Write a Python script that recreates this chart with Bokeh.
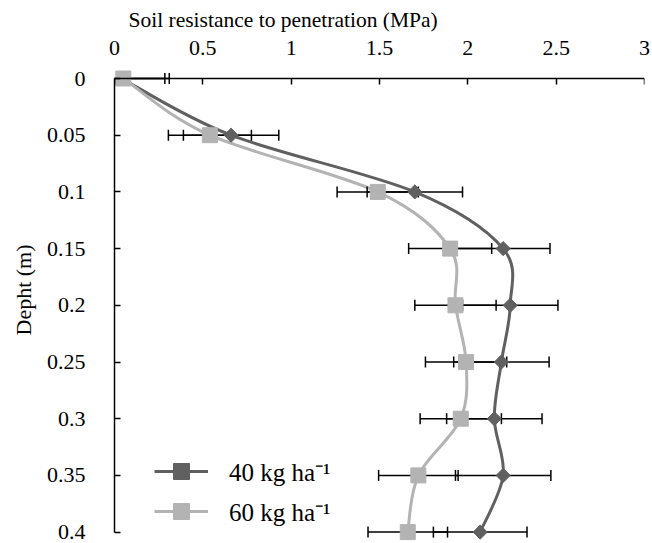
import numpy as np
from bokeh.plotting import figure
from bokeh.models import (Range1d, LinearAxis, FixedTicker, Legend, LegendItem,
                          ColumnDataSource, Title)
from bokeh.embed import file_html
from bokeh.resources import INLINE

# ---------------- data ----------------
depth = [0.0, 0.05, 0.10, 0.15, 0.20, 0.25, 0.30, 0.35, 0.40]
res_40 = [0.04, 0.66, 1.70, 2.20, 2.24, 2.19, 2.15, 2.20, 2.07]
res_60 = [0.05, 0.54, 1.49, 1.90, 1.93, 1.99, 1.96, 1.72, 1.66]
err_40 = [0.27, 0.27, 0.27, 0.265, 0.27, 0.27, 0.27, 0.27, 0.265]
err_60 = [0.235, 0.235, 0.23, 0.235, 0.23, 0.23, 0.23, 0.225, 0.225]
series_labels = ["40 kg ha\u207b\u00b9", "60 kg ha\u207b\u00b9"]
x_ticks = [0, 0.5, 1, 1.5, 2, 2.5, 3]
x_tick_labels = ["0", "0.5", "1", "1.5", "2", "2.5", "3"]
y_ticks = [0.0, 0.05, 0.10, 0.15, 0.20, 0.25, 0.30, 0.35, 0.40]
y_tick_labels = ["0", "0.05", "0.1", "0.15", "0.2", "0.25", "0.3", "0.35", "0.4"]
x_title = "Soil resistance to penetration (MPa)"
y_title = "Depht (m)"

# ---------------- style ----------------
FONT = "Liberation Serif"
FS = "22px"
DARK = "#606060"
LIGHT = "#b3b3b3"

p = figure(width=652, height=543, output_backend="svg", toolbar_location=None,
           x_range=Range1d(0, 3), y_range=Range1d(0.41005, -0.00882),
           x_axis_location=None, y_axis_location="left",
           min_border_left=113, min_border_right=8, min_border_top=68,
           min_border_bottom=0)
p.outline_line_color = None
p.xgrid.visible = False
p.ygrid.visible = False
p.background_fill_color = "white"
p.border_fill_color = "white"


def style_ticks(ax):
    ax.major_tick_in = 6
    ax.major_tick_out = 0
    ax.minor_tick_in = 0
    ax.minor_tick_out = 0
    ax.axis_line_width = 1.5
    ax.axis_line_color = "black"
    ax.major_tick_line_width = 1.5
    ax.major_tick_line_color = "black"
    ax.major_label_text_font = FONT
    ax.major_label_text_font_size = FS
    ax.major_label_text_color = "black"


# top axis line + ticks, fixed at depth 0
xaxis = LinearAxis(fixed_location=0)
xaxis.ticker = FixedTicker(ticks=x_ticks)
style_ticks(xaxis)
xaxis.major_label_text_alpha = 0
p.add_layout(xaxis, "above")

# top axis labels (panel axis, line hidden)
xlab = LinearAxis()
xlab.ticker = FixedTicker(ticks=x_ticks)
xlab.major_label_overrides = {t: l for t, l in zip(x_ticks, x_tick_labels)}
style_ticks(xlab)
xlab.axis_line_alpha = 0
xlab.major_tick_line_alpha = 0
xlab.major_tick_in = 0
xlab.major_label_standoff = 14
p.add_layout(xlab, "above")

# x title
p.title.text = x_title
p.title.align = "left"
p.title.offset = 14
p.title.text_font = FONT
p.title.text_font_size = "21.5px"
p.title.text_font_style = "normal"
p.title.text_color = "black"
p.title.standoff = 11

# left axis
ya = p.yaxis[0]
ya.ticker = FixedTicker(ticks=y_ticks)
ya.major_label_overrides = {t: l for t, l in zip(y_ticks, y_tick_labels)}
ya.bounds = (0, 0.4)
style_ticks(ya)
ya.major_label_standoff = 29

ytitle = Title(text=y_title, align="left", offset=208, text_font=FONT,
               text_font_size=FS, text_font_style="normal", text_color="black",
               standoff=16)
p.add_layout(ytitle, "left")


def smooth_controls(xs, ys):
    pts = np.column_stack([xs, ys]).astype(float)
    n = len(pts)
    out = {k: [] for k in ["x0", "y0", "x1", "y1", "cx0", "cy0", "cx1", "cy1"]}
    for i in range(n - 1):
        pp = pts[i - 1] if i > 0 else pts[i]
        pn = pts[i + 2] if i + 2 < n else pts[i + 1]
        c0 = pts[i] + (pts[i + 1] - pp) / 6.0
        c1 = pts[i + 1] - (pn - pts[i]) / 6.0
        out["x0"].append(pts[i][0]); out["y0"].append(pts[i][1])
        out["x1"].append(pts[i + 1][0]); out["y1"].append(pts[i + 1][1])
        out["cx0"].append(c0[0]); out["cy0"].append(c0[1])
        out["cx1"].append(c1[0]); out["cy1"].append(c1[1])
    return ColumnDataSource(out)


curve40 = p.bezier(x0="x0", y0="y0", x1="x1", y1="y1", cx0="cx0", cy0="cy0",
                   cx1="cx1", cy1="cy1", source=smooth_controls(res_40, depth),
                   line_color=DARK, line_width=3)
curve60 = p.bezier(x0="x0", y0="y0", x1="x1", y1="y1", cx0="cx0", cy0="cy0",
                   cx1="cx1", cy1="cy1", source=smooth_controls(res_60, depth),
                   line_color=LIGHT, line_width=3)

# error bars
for vals, errs in [(res_40, err_40), (res_60, err_60)]:
    lo = [v - e for v, e in zip(vals, errs)]
    hi = [v + e for v, e in zip(vals, errs)]
    p.segment(x0=lo, y0=depth, x1=hi, y1=depth, line_color="black", line_width=1.5)
    p.scatter(x=lo + hi, y=depth + depth, marker="dash", angle=np.pi / 2, size=11,
              line_color="black", line_width=1.5)

pts40 = p.scatter(x=res_40, y=depth, marker="square", angle=np.pi / 4, size=10,
                  fill_color=DARK, line_color=DARK)
pts60 = p.scatter(x=res_60, y=depth, marker="square", size=15,
                  fill_color=LIGHT, line_color=LIGHT)

legend = Legend(items=[LegendItem(label=series_labels[0], renderers=[curve40, pts40]),
                       LegendItem(label=series_labels[1], renderers=[curve60, pts60])],
                location=(40, 12), orientation="vertical",
                glyph_width=54, glyph_height=40, spacing=-3, padding=0, margin=0,
                label_standoff=21, label_text_font=FONT, label_text_font_size="25px",
                label_text_color="black", label_height=37,
                border_line_alpha=0, background_fill_alpha=0)
p.add_layout(legend)

open("out.html", "w").write(file_html(p, INLINE))
